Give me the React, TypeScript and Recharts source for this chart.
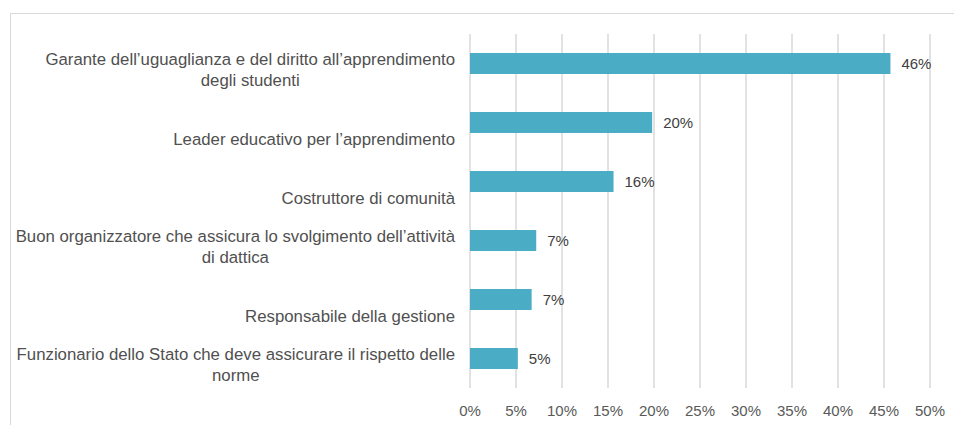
import React from 'react';
import { BarChart, Bar, XAxis, YAxis, CartesianGrid, LabelList } from 'recharts';

const categories = [
  'Garante dell’uguaglianza e del diritto all’apprendimento\ndegli studenti',
  'Leader educativo per l’apprendimento',
  'Costruttore di comunità',
  'Buon organizzatore che assicura lo svolgimento dell’attività\ndi dattica',
  'Responsabile della gestione',
  'Funzionario dello Stato che deve assicurare il rispetto delle\nnorme',
];
const shares = [45.7, 19.8, 15.6, 7.2, 6.7, 5.2];
const xTicks = [0, 5, 10, 15, 20, 25, 30, 35, 40, 45, 50];

const data = categories.map((name, i) => ({ name, value: shares[i] }));

const FONT = '"Liberation Sans", Arial, sans-serif';
const LABEL_SIZE = 16.8;

let canvas: HTMLCanvasElement | null = null;
const measure = (text: string) => {
  if (!canvas) canvas = document.createElement('canvas');
  const ctx = canvas.getContext('2d');
  if (!ctx) return text.length * 7;
  ctx.font = `${LABEL_SIZE}px "Liberation Sans"`;
  return ctx.measureText(text).width;
};

const CategoryTick = ({ x, y, payload }: any) => {
  const lines = String(payload.value).split('\n');
  const widest = Math.max(...lines.map(measure));
  const cx = x - widest / 2;
  const lastY = y + 17;
  return (
    <g>
      {lines.map((line, i) => (
        <text
          key={i}
          x={cx}
          y={lastY - (lines.length - 1 - i) * 21.5}
          dy="0.35em"
          textAnchor="middle"
          fill="#505050"
          fontSize={LABEL_SIZE}
          fontFamily={FONT}
        >
          {line}
        </text>
      ))}
    </g>
  );
};

export default function App() {
  return (
    <div style={{ position: 'fixed', left: 0, top: 0, width: 954, height: 425, overflow: 'hidden', background: '#fff' }}>
      <div
        style={{
          position: 'absolute',
          left: 10,
          top: 13,
          width: 960,
          height: 430,
          border: '1px solid #d9d9d9',
        }}
      />
      <div style={{ position: 'absolute', left: 0, top: 0 }}>
        <BarChart
          width={954}
          height={425}
          data={data}
          layout="vertical"
          margin={{ top: 34, right: 24, bottom: 7, left: 0 }}
          barCategoryGap="32%"
        >
          <CartesianGrid horizontal={false} stroke="#d9d9d9" strokeWidth={1.5} />
          <XAxis
            type="number"
            domain={[0, 50]}
            ticks={xTicks}
            tickFormatter={(v) => `${v}%`}
            axisLine={false}
            tickLine={false}
            tickMargin={11}
            height={30}
            interval={0}
            tick={{ fill: '#595959', fontSize: 15, fontFamily: FONT }}
          />
          <YAxis
            type="category"
            dataKey="name"
            width={470}
            axisLine={false}
            tickLine={false}
            tickMargin={9}
            interval={0}
            tick={<CategoryTick />}
          />
          <Bar dataKey="value" fill="#4BACC6" isAnimationActive={false}>
            <LabelList
              dataKey="value"
              position="right"
              offset={11}
              formatter={(v: any) => `${Math.round(Number(v))}%`}
              fill="#404040"
              fontSize={15}
              fontFamily={FONT}
            />
          </Bar>
        </BarChart>
      </div>
    </div>
  );
}
